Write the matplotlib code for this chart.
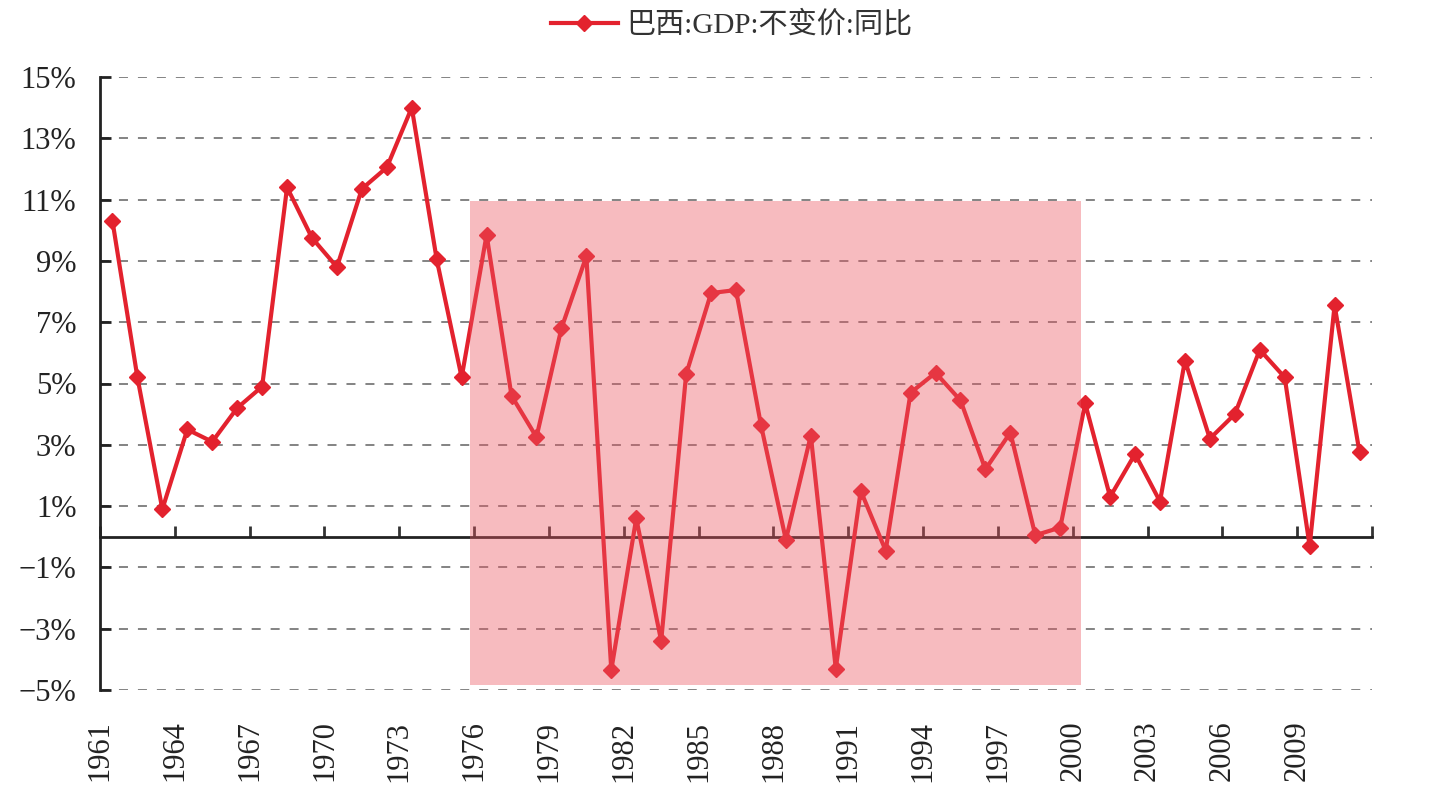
import matplotlib
matplotlib.use("Agg")
import matplotlib.pyplot as plt
from matplotlib.patches import Rectangle

plt.rcParams['font.family'] = ['Liberation Serif', 'Noto Sans CJK SC', 'DejaVu Sans']

# data
years = list(range(1961, 2012))
gdp_yoy = [10.3, 5.2, 0.9, 3.5, 3.1, 4.2, 4.9, 11.4, 9.75, 8.8,
           11.35, 12.05, 14.0, 9.05, 5.2, 9.85, 4.6, 3.25, 6.8, 9.15,
           -4.35, 0.6, -3.4, 5.3, 7.95, 8.05, 3.65, -0.1, 3.3, -4.3,
           1.5, -0.45, 4.7, 5.35, 4.45, 2.2, 3.4, 0.05, 0.3, 4.35,
           1.3, 2.7, 1.15, 5.75, 3.2, 4.0, 6.1, 5.2, -0.3, 7.55,
           2.75]
series_name = "巴西:GDP:不变价:同比"
label_years = years[::3]
y_ticks = list(range(-5, 16, 2))

red = '#E3222E'

fig = plt.figure(figsize=(14.49, 8.07), dpi=100)
ax = fig.add_axes([100 / 1449, 1 - 690 / 807, 1272 / 1449, 613 / 807])

ax.plot(years, gdp_yoy, color=red, lw=3, marker='D', ms=8.5,
        label=series_name, zorder=2.7, clip_on=False)

# shaded period
ax.add_patch(Rectangle((1975.35, -4.85), 1999.85 - 1975.35, 10.97 + 4.85,
                       facecolor=(235 / 255, 85 / 255, 97 / 255), alpha=0.4,
                       edgecolor='none', zorder=3))

ax.set_xlim(years[0] - 0.5, years[-1] + 0.5)
ax.set_ylim(-5, 15)

# y axis
ax.set_yticks(y_ticks)
ax.set_yticklabels([f"{v}%".replace('-', '\u2212') for v in y_ticks])
ax.yaxis.grid(True, ls=(0, (5, 5.5)), color='#7a7a7a', lw=1.3, zorder=0)
ax.tick_params(axis='y', direction='in', length=8, width=2, pad=17,
               labelsize=22, colors='#222222')
ax.spines['left'].set_linewidth(2)
ax.spines['left'].set_color('#222222')
ax.spines['top'].set_visible(False)
ax.spines['right'].set_visible(False)

# x axis line at zero with ticks pointing up
ax.spines['bottom'].set_position(('data', 0))
ax.spines['bottom'].set_linewidth(2)
ax.spines['bottom'].set_color('#222222')
tick_pos = [y - 0.5 for y in label_years] + [years[-1] + 0.5]
ax.set_xticks(tick_pos)
ax.tick_params(axis='x', direction='in', length=8, width=2,
               labelbottom=False, colors='#333333')

# year labels below the chart
sec = ax.secondary_xaxis('bottom')
sec.set_xticks([y - 0.5 for y in label_years])
sec.set_xticklabels([str(y) for y in label_years])
sec.spines['bottom'].set_visible(False)
sec.tick_params(axis='x', length=0, pad=22, labelsize=22,
                labelrotation=90, colors='#222222')

fig.legend(loc='center', bbox_to_anchor=(0.505, 1 - 25 / 807), frameon=False,
           fontsize=21, handlelength=2.3, handletextpad=0.3,
           labelcolor='#333333')

fig.savefig('out.png', dpi=100, facecolor='white')
